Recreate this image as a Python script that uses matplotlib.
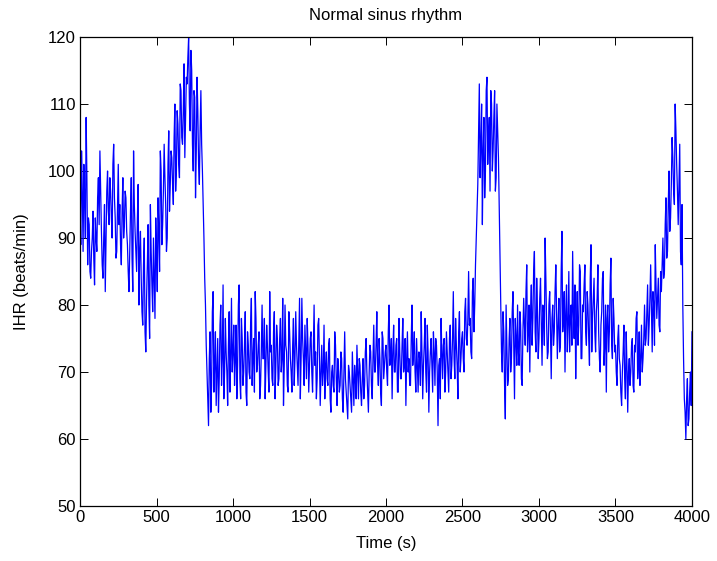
import numpy as np
import matplotlib.pyplot as plt

# IHR values, one every 10 s from 0 to 4000 s
ihr = [
    95, 103, 88, 96, 108, 86, 92, 84, 90, 87,
    93, 88, 99, 103, 91, 84, 95, 89, 100, 92,
    97, 90, 104, 93, 88, 101, 95, 86, 99, 92,
    96, 89, 82, 94, 87, 103, 91, 85, 98, 88,
    84, 77, 90, 73, 86, 80, 95, 83, 90, 78,
    88, 96, 85, 100, 92, 104, 95, 90, 106, 98,
    102, 95, 110, 100, 107, 99, 112, 104, 116, 108,
    113, 120, 106, 115, 100, 111, 103, 109, 98, 112,
    100, 90, 80, 70, 62, 76, 68, 82, 71, 65,
    75, 69, 80, 72, 66, 78, 70, 74, 67, 81,
    73, 68, 77, 71, 83, 66, 75, 70, 79, 65,
    74, 69, 81, 72, 67, 78, 71, 76, 68, 80,
    72, 66, 77, 70, 82, 74, 68, 79, 71, 75,
    69, 78, 72, 65, 80, 73, 67, 76, 70, 74,
    68, 79, 71, 75, 66, 81, 72, 77, 69, 74,
    71, 76, 67, 80, 73, 69, 78, 65, 74, 70,
    66, 73, 68, 75, 64, 71, 67, 74, 65, 70,
    68, 72, 64, 76, 67, 63, 70, 66, 73, 65,
    69, 74, 66, 71, 65, 72, 68, 75, 67, 70,
    73, 66, 77, 70, 79, 68, 72, 65, 75, 71,
    74, 68, 80, 72, 66, 77, 70, 75, 67, 73,
    69, 78, 71, 65, 76, 72, 68, 80, 73, 70,
    75, 67, 72, 79, 66, 74, 70, 77, 64, 73,
    71, 76, 68, 74, 62, 72, 78, 69, 75, 70,
    73, 67, 77, 71, 82, 69, 74, 66, 79, 72,
    76, 70, 81, 74, 85, 78, 72, 84, 80, 90,
    98, 113, 104, 92, 108, 100, 114, 105, 97, 110,
    103, 112, 99, 106, 95, 80, 70, 76, 63, 74,
    69, 78, 72, 82, 66, 75, 80, 71, 77, 68,
    81, 74, 86, 76, 70, 83, 78, 88, 73, 79,
    75, 84, 71, 79, 90, 77, 73, 82, 69, 80,
    76, 86, 72, 81, 74, 91, 78, 70, 83, 77,
    73, 80, 88, 75, 69, 82, 77, 85, 72, 79,
    86, 74, 80, 71, 89, 78, 84, 73, 81, 76,
    70, 79, 85, 74, 67, 80, 76, 87, 72, 78,
    74, 68, 77, 71, 65, 73, 69, 76, 64, 72,
    70, 75, 67, 73, 79, 71, 68, 77, 72, 80,
    75, 83, 77, 86, 73, 80, 89, 78, 84, 76,
    82, 90, 85, 96, 88, 100, 93, 105, 97, 110,
    101, 92, 104, 86, 80, 66, 60, 69, 63, 70,
    76,
]

# values between those samples, at 5, 15, ... 3995 s
ihr_mid = [
    89, 97, 101, 90, 99, 93, 85, 88, 94, 83,
    90, 96, 92, 97, 86, 90, 82, 97, 94, 99,
    93, 101, 96, 87, 95, 92, 89, 94, 90, 97,
    91, 85, 88, 99, 82, 95, 88, 93, 80, 91,
    79, 86, 76, 81, 92, 75, 88, 79, 84, 93,
    82, 91, 103, 89, 97, 99, 88, 101, 94, 103,
    98, 105, 97, 109, 101, 113, 105, 109, 102, 114,
    117, 110, 118, 104, 112, 96, 114, 101, 106, 104,
    95, 84, 74, 66, 72, 64, 79, 67, 76, 70,
    64, 77, 68, 83, 70, 73, 65, 79, 72, 70,
    77, 72, 66, 80, 69, 78, 68, 74, 67, 76,
    70, 77, 68, 75, 82, 70, 74, 66, 73, 72,
    78, 71, 74, 67, 73, 69, 76, 66, 77, 68,
    75, 70, 81, 71, 74, 68, 79, 72, 67, 78,
    72, 74, 68, 81, 72, 75, 68, 73, 78, 67,
    75, 70, 74, 71, 66, 77, 72, 70, 68, 77,
    71, 69, 74, 66, 70, 68, 76, 69, 72, 67,
    73, 66, 70, 69, 65, 71, 68, 64, 69, 71,
    66, 70, 72, 67, 69, 66, 73, 70, 64, 74,
    68, 72, 70, 74, 71, 75, 67, 76, 69, 73,
    70, 76, 71, 75, 73, 70, 74, 67, 78, 69,
    74, 70, 75, 72, 70, 68, 75, 71, 76, 67,
    71, 73, 68, 73, 71, 78, 67, 73, 70, 75,
    67, 73, 75, 70, 71, 66, 73, 74, 67, 76,
    70, 75, 69, 75, 72, 78, 71, 76, 70, 75,
    72, 79, 75, 78, 77, 73, 82, 76, 86, 94,
    106, 99, 110, 103, 96, 112, 101, 108, 112, 100,
    108, 97, 110, 102, 88, 73, 79, 68, 80, 68,
    75, 70, 79, 74, 78, 71, 73, 79, 69, 76,
    77, 82, 73, 80, 79, 74, 85, 76, 84, 72,
    81, 77, 80, 74, 84, 72, 80, 76, 78, 74,
    82, 79, 77, 73, 85, 76, 82, 79, 73, 85,
    78, 74, 79, 83, 77, 74, 86, 72, 80, 83,
    76, 82, 75, 84, 73, 81, 76, 79, 86, 72,
    77, 84, 71, 80, 78, 73, 83, 74, 81, 73,
    70, 75, 72, 67, 70, 77, 66, 71, 70, 68,
    74, 68, 74, 78, 69, 76, 72, 70, 75, 74,
    79, 74, 81, 79, 82, 74, 83, 81, 77, 85,
    86, 84, 92, 87, 95, 91, 98, 102, 95, 106,
    97, 98, 88, 95, 72, 64, 66, 62, 67, 65,
]

t_main = np.arange(len(ihr)) * 10
t_mid = np.arange(len(ihr_mid)) * 10 + 5
time_s = np.concatenate([t_main, t_mid])
values = np.concatenate([ihr, ihr_mid])
order = np.argsort(time_s)
time_s = time_s[order]
values = values[order]

plt.rcParams['font.family'] = ['Liberation Sans', 'DejaVu Sans']
plt.rcParams['font.size'] = 12

fig = plt.figure(figsize=(7.17, 5.61), dpi=100)
ax = fig.add_axes([0.1116, 0.098, 0.8535, 0.836])

ax.plot(time_s, values, color='#0000ff', linewidth=0.9)

ax.set_xlim(0, 4000)
ax.set_ylim(50, 120)
ax.set_xticks(np.arange(0, 4001, 500))
ax.set_yticks(np.arange(50, 121, 10))
ax.tick_params(direction='in', top=True, right=True, length=6, width=0.7, pad=3)
for s in ax.spines.values():
    s.set_linewidth(0.9)

ax.set_title('Normal sinus rhythm', fontsize=12, pad=12)
ax.set_xlabel('Time (s)', fontsize=12, labelpad=8)
ax.set_ylabel('IHR (beats/min)', fontsize=12, labelpad=14)

fig.savefig('out.png', dpi=100)
